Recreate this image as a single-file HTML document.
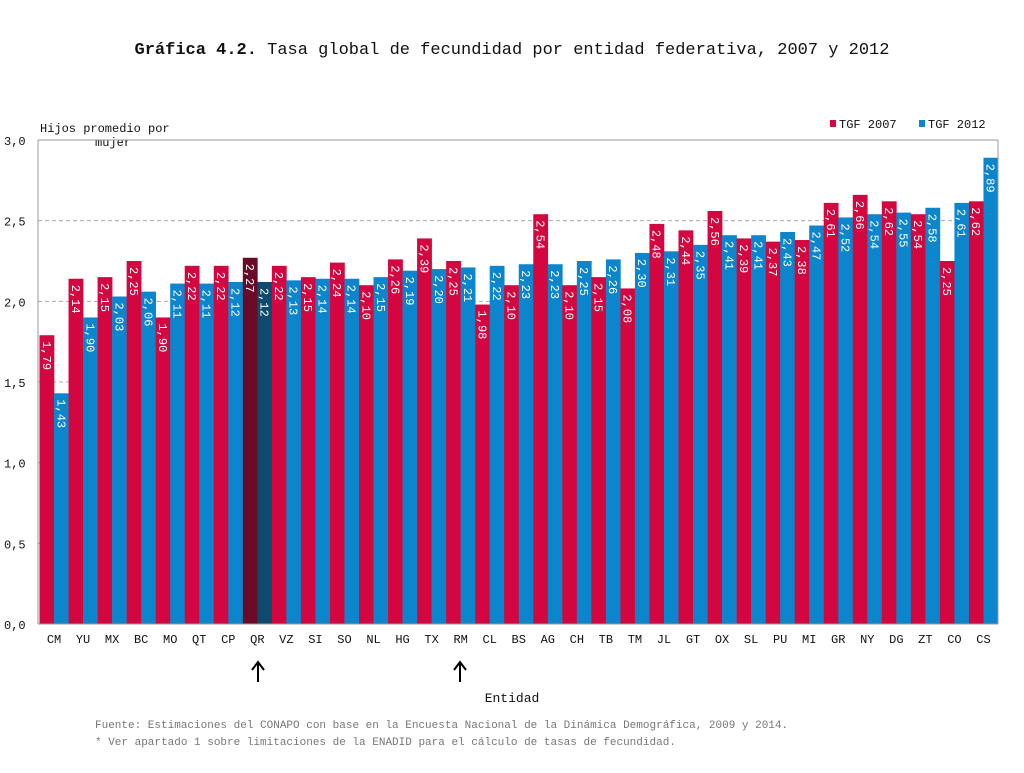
<!DOCTYPE html>
<html><head><meta charset="utf-8"><style>
body{margin:0;background:#fff;width:1024px;height:768px;overflow:hidden}
svg text{font-family:"Liberation Mono","DejaVu Sans Mono",monospace}
</style></head><body>
<svg id="chart" width="1024" height="768" xmlns="http://www.w3.org/2000/svg">
<text x="512" y="54" text-anchor="middle" font-size="17" fill="#111"><tspan font-weight="bold">Gráfica 4.2.</tspan> Tasa global de fecundidad por entidad federativa, 2007 y 2012</text>
<text x="40" y="132" font-size="12" fill="#111">Hijos promedio por</text>
<text x="95" y="146" font-size="12" fill="#111">mujer</text>
<g>
<rect x="830" y="120" width="6" height="7" fill="#d4063f"/>
<text x="839" y="128" font-size="12" fill="#111">TGF 2007</text>
<rect x="919" y="120" width="6" height="7" fill="#0b86cc"/>
<text x="928" y="128" font-size="12" fill="#111">TGF 2012</text>
</g>
<g id="grid"></g>
<g id="bars"></g>
<g id="axes"></g>
<text x="512" y="702" text-anchor="middle" font-size="13" fill="#111">Entidad</text>
<g stroke="#000" stroke-width="2" fill="none"><line x1="258" y1="682" x2="258" y2="664"/><polyline points="252,670 258,662 264,670"/></g>
<g stroke="#000" stroke-width="2" fill="none"><line x1="460" y1="682" x2="460" y2="664"/><polyline points="454,670 460,662 466,670"/></g>
<text x="95" y="728" font-size="11" fill="#777">Fuente: Estimaciones del CONAPO con base en la Encuesta Nacional de la Dinámica Demográfica, 2009 y 2014.</text>
<text x="95" y="745" font-size="11" fill="#777">* Ver apartado 1 sobre limitaciones de la ENADID para el cálculo de tasas de fecundidad.</text>
</svg>
<script>
const categories=["CM","YU","MX","BC","MO","QT","CP","QR","VZ","SI","SO","NL","HG","TX","RM","CL","BS","AG","CH","TB","TM","JL","GT","OX","SL","PU","MI","GR","NY","DG","ZT","CO","CS"];
const tgf2007=[1.79,2.14,2.15,2.25,1.90,2.22,2.22,2.27,2.22,2.15,2.24,2.10,2.26,2.39,2.25,1.98,2.10,2.54,2.10,2.15,2.08,2.48,2.44,2.56,2.39,2.37,2.38,2.61,2.66,2.62,2.54,2.25,2.62];
const tgf2012=[1.43,1.90,2.03,2.06,2.11,2.11,2.12,2.12,2.13,2.14,2.14,2.15,2.19,2.20,2.21,2.22,2.23,2.23,2.25,2.26,2.30,2.31,2.35,2.41,2.41,2.43,2.47,2.52,2.54,2.55,2.58,2.61,2.89];
const yTicks=[0,0.5,1.0,1.5,2.0,2.5,3.0];
const highlight="QR";
const NS="http://www.w3.org/2000/svg";
const X0=39.5,X1=998,Y0=624,Y1=140,YMAX=3;
const n=categories.length,gw=(X1-X0)/n;
const y=v=>Y0-(v/YMAX)*(Y0-Y1);
const x=i=>X0+i*gw;
function mk(t,a,p){const e=document.createElementNS(NS,t);for(const k in a)e.setAttribute(k,a[k]);p.appendChild(e);return e;}
const grid=document.getElementById('grid'),bars=document.getElementById('bars'),axes=document.getElementById('axes');
yTicks.forEach(t=>{
 if(t>0&&t<YMAX){const l=mk('line',{x1:38,x2:X1,y1:y(t),y2:y(t),stroke:'#aaa','stroke-dasharray':'4,3'},grid);
 
 }
 const tx=mk('text',{x:4,y:y(t)+5,'font-size':12,fill:'#111'},axes);
 tx.textContent=t.toFixed(1).replace('.',',');
 
 
});
mk('line',{x1:38,x2:X1,y1:Y1,y2:Y1,stroke:'#999'},axes);
mk('line',{x1:X1,x2:X1,y1:Y1,y2:Y0,stroke:'#999'},axes);
mk('line',{x1:38,x2:38,y1:Y1,y2:Y0,stroke:'#999'},axes);
mk('line',{x1:38,x2:X1,y1:Y0,y2:Y0,stroke:'#999'},axes);
const bw=gw/2;
categories.forEach((c,i)=>{
 const hl=c===highlight;
 [[tgf2007[i],hl?'#6b0a26':'#d4063f','bar-2007-'],[tgf2012[i],hl?'#0d4a6e':'#0b86cc','bar-2012-']].forEach((s,j)=>{
  const bx=x(i)+j*bw,top=y(s[0]);
  const r=mk('rect',{x:bx,y:top,width:bw+0.3,height:Y0-top,fill:s[1]},bars);
  
  
  const cx=bx+bw/2-4,ty=top+6;
  const t=mk('text',{x:0,y:0,'font-size':12,fill:'#fff',transform:`translate(${cx},${ty}) rotate(90)`},bars);
  t.textContent=s[0].toFixed(2).replace('.',',');
  
  
 });
 const cl=mk('text',{x:x(i)+gw/2,y:643,'text-anchor':'middle','font-size':12,fill:'#111'},axes);
 cl.textContent=c;
 
 
});
</script>
</body></html>
